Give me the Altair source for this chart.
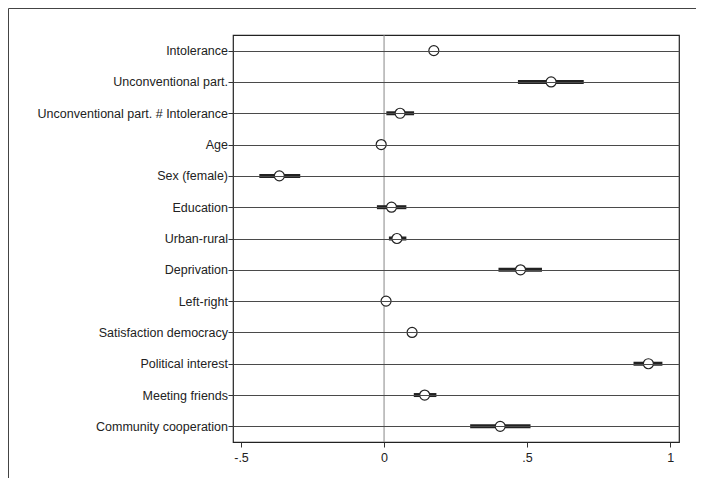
import altair as alt
import pandas as pd

terms = ["Intolerance", "Unconventional part.", "Unconventional part. # Intolerance",
         "Age", "Sex (female)", "Education", "Urban-rural", "Deprivation",
         "Left-right", "Satisfaction democracy", "Political interest",
         "Meeting friends", "Community cooperation"]
coef = [0.174, 0.584, 0.056, -0.010, -0.366, 0.026, 0.045, 0.477, 0.007, 0.098, 0.924, 0.142, 0.406]
lo = [0.160, 0.468, 0.008, -0.020, -0.436, -0.025, 0.017, 0.400, -0.005, 0.085, 0.872, 0.104, 0.301]
hi = [0.188, 0.698, 0.105, 0.000, -0.293, 0.078, 0.078, 0.552, 0.019, 0.111, 0.973, 0.183, 0.512]
xticks = [-0.5, 0, 0.5, 1]

df = pd.DataFrame({"term": terms, "coef": coef, "lo": lo, "hi": hi})

W, H = 446, 407
PL, PT = 225, 27

yenc = alt.Y("term:N", sort=terms, title=None,
             scale=alt.Scale(type="point", padding=0.5),
             axis=alt.Axis(grid=True, gridColor="#4a4a4a", gridWidth=1,
                           domain=False, tickSize=5, tickColor="#333",
                           labelFont="Liberation Sans", labelFontSize=12.5,
                           labelColor="#222", labelPadding=0.5, labelLimit=400,
                           zindex=1))
xscale = alt.Scale(domain=[-0.528, 1.031], nice=False, zero=False)
xaxis = alt.Axis(values=xticks, grid=False, domain=False, tickSize=5, tickColor="#333",
                 labelFont="Liberation Sans", labelFontSize=12.5, labelColor="#222",
                 labelPadding=4,
                 labelExpr="datum.value == -0.5 ? '-.5' : datum.value == 0.5 ? '.5' : datum.value == 0 ? '0' : '1'")

base = alt.Chart(df)

zero = alt.Chart(pd.DataFrame({"x": [0]})).mark_rule(color="#888", strokeWidth=1).encode(
    x=alt.X("x:Q", scale=xscale, axis=xaxis, title=None))

ci = base.mark_rule(color="#222", strokeWidth=4).encode(
    x=alt.X("lo:Q", scale=xscale, axis=xaxis, title=None), x2="hi:Q", y=yenc)

pts = base.mark_point(shape="circle", filled=False, fill="white", fillOpacity=1,
                      stroke="#222", strokeWidth=1.2, size=100, opacity=1).encode(
    x=alt.X("coef:Q", scale=xscale, axis=xaxis, title=None), y=yenc)

frame_top = alt.Chart(pd.DataFrame({"a": [0]})).mark_rule(color="#444", strokeWidth=1).encode(
    x=alt.value(-PL + 0.5), x2=alt.value(W + 40), y=alt.value(-PT + 0.5))
frame_left = alt.Chart(pd.DataFrame({"a": [0]})).mark_rule(color="#444", strokeWidth=1).encode(
    x=alt.value(-PL + 0.5), y=alt.value(-PT + 0.5), y2=alt.value(H + 60))

chart = alt.layer(zero, ci, pts, frame_top, frame_left).properties(
    width=W, height=H,
    autosize=alt.AutoSizeParams(type="none"),
    padding={"left": PL, "top": PT, "right": 17, "bottom": 36},
).configure(background="white").configure_view(stroke="#222", strokeWidth=1.2)

chart.save("out.html", embed_options={"renderer": "svg", "actions": False})
